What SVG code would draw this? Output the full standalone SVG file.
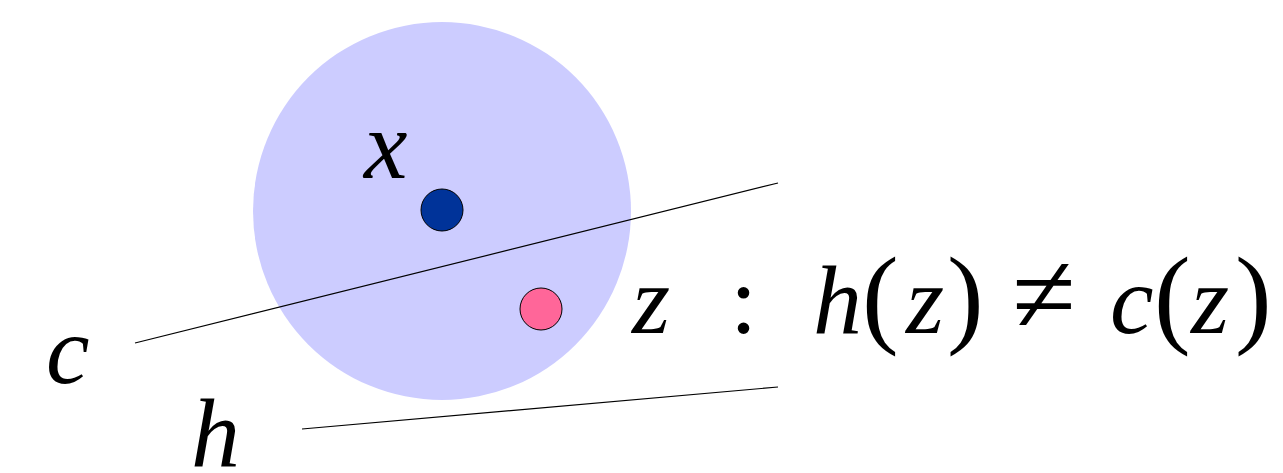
<svg xmlns="http://www.w3.org/2000/svg" width="1283" height="473" viewBox="0 0 1283 473">
<style>
.t{font-family:"Liberation Serif","DejaVu Serif",serif;font-size:98px;fill:#000}
.i{font-style:italic}
.p{font-size:110px}
.ln{stroke:#000;stroke-width:1.2;fill:none}
.dot{stroke:#000;stroke-width:1}
</style>
<rect width="1283" height="473" fill="#fff"/>
<g id="region"><circle cx="442" cy="211" r="189" fill="#ccccff"/></g>
<g id="connectors">
<line class="ln" x1="135" y1="343" x2="778" y2="183"/>
<line class="ln" x1="302" y1="429" x2="778" y2="387"/>
</g>
<g id="x-point"><circle class="dot" cx="442" cy="210" r="21" fill="#003399"/><text class="t i" x="364" y="178">x</text></g>
<g id="z-point"><circle class="dot" cx="541" cy="309" r="21" fill="#ff6699"/></g>
<g id="label-c"><text class="t i" x="46" y="383">c</text></g>
<g id="label-h"><text class="t i" x="191" y="466">h</text></g>
<g id="label-z">
<text class="t" y="333"><tspan class="i" x="632">z</tspan><tspan x="730">:</tspan><tspan class="i" x="813">h</tspan><tspan class="p" x="862">(</tspan><tspan class="i" x="906">z</tspan><tspan class="p" x="947">)</tspan><tspan x="1012" font-size="116">≠</tspan><tspan class="i" x="1110">c</tspan><tspan class="p" x="1154">(</tspan><tspan class="i" x="1191">z</tspan><tspan class="p" x="1235">)</tspan></text>
</g>
</svg>
